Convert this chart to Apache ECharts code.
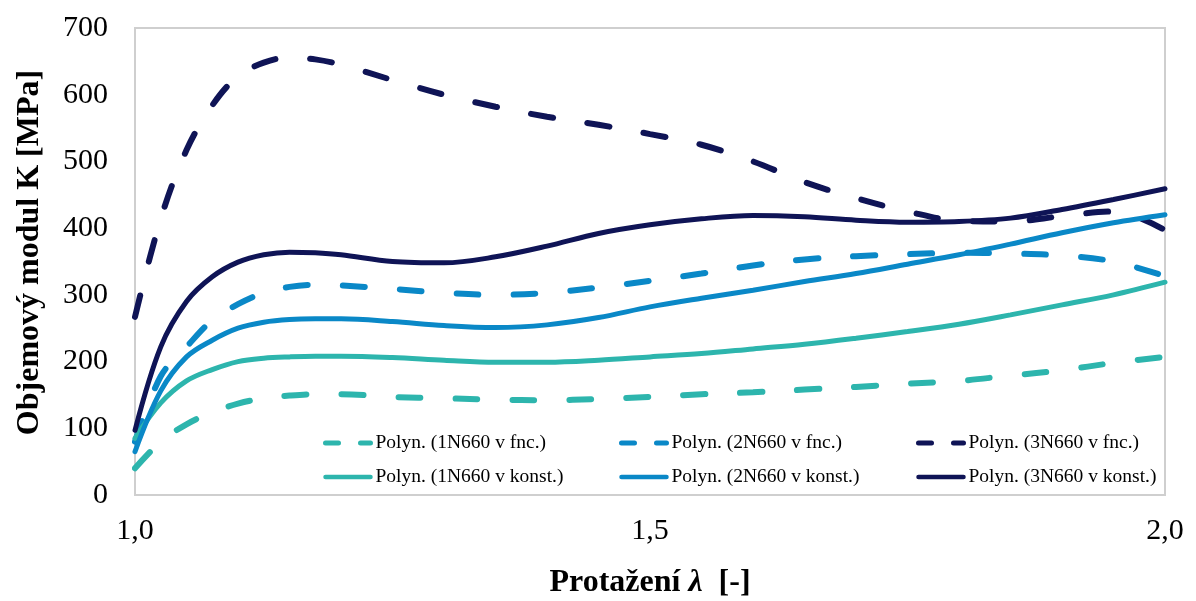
<!DOCTYPE html>
<html>
<head>
<meta charset="utf-8">
<script src="https://cdn.jsdelivr.net/npm/echarts@6/dist/echarts.min.js"></script>
<style>
  html, body { margin: 0; padding: 0; background: #fff; }
  #chart { width: 1196px; height: 601px; }
</style>
</head>
<body>
<div id="chart"></div>
<script>
// Stretch ratio λ at which each fitted curve is sampled
const lambda = [1.0, 1.025, 1.05, 1.075, 1.1, 1.125, 1.15, 1.175, 1.2, 1.25, 1.3, 1.35,
                1.4, 1.45, 1.5, 1.55, 1.6, 1.65, 1.7, 1.75, 1.8, 1.85, 1.9, 1.95, 2.0];

// Bulk modulus K [MPa], polynomial trend curves
const k1N_fnc   = [40, 80, 106, 124, 137, 145, 149, 151, 151, 147, 145, 143,
                   142, 144, 147, 151, 154, 158, 162, 167, 171, 179, 187, 198, 207];
const k2N_fnc   = [80, 178, 222, 262, 286, 303, 312, 315, 314, 309, 303, 300,
                   303, 311, 321, 332, 344, 353, 358, 361, 363, 362, 359, 350, 328];
const k3N_fnc   = [267, 414, 517, 584, 628, 648, 656, 653, 645, 622, 600, 582,
                   567, 555, 541, 525, 500, 469, 445, 425, 411, 410, 418, 425, 397];
const k1N_konst = [85, 138, 171, 188, 200, 205, 207, 208, 208, 206, 202, 199,
                   199, 202, 207, 212, 219, 226, 235, 245, 256, 270, 285, 300, 319];
const k2N_konst = [65, 156, 207, 232, 250, 259, 263, 264, 264, 260, 254, 251,
                   255, 266, 282, 295, 307, 320, 332, 346, 360, 376, 393, 408, 420];
const k3N_konst = [97, 222, 290, 327, 349, 360, 364, 363, 360, 350, 348, 357,
                   373, 392, 405, 414, 419, 417, 412, 409, 410, 415, 428, 443, 459];

const seriesNames = [
  'Polyn. (1N660 v fnc.)', 'Polyn. (2N660 v fnc.)', 'Polyn. (3N660 v fnc.)',
  'Polyn. (1N660 v konst.)', 'Polyn. (2N660 v konst.)', 'Polyn. (3N660 v konst.)'
];
const xTicks = { 1: '1,0', 1.5: '1,5', 2: '2,0' };

const TEAL = '#2db5ad', BLUE = '#0a88c7', NAVY = '#0f1456';
const SERIF = '"Liberation Serif", "Times New Roman", serif';

function pairs(ys) { return lambda.map((x, i) => [x, ys[i]]); }

function curve(name, ys, color, dashed) {
  return {
    name: name,
    type: 'line',
    data: pairs(ys),
    smooth: 0.35,
    symbol: 'none',
    silent: true,
    lineStyle: dashed
      ? { color: color, width: 6, type: [22, 35], cap: 'round' }
      : { color: color, width: 5, cap: 'round' },
    itemStyle: { color: color }
  };
}

// one legend column: dashed entry on top, solid entry below; line-only keys
function legendColumn(left, names, color) {
  const hidden = { opacity: 0, borderWidth: 0 };
  return {
    orient: 'vertical',
    left: left,
    top: 428,
    itemGap: 14,
    itemWidth: 45,
    itemHeight: 10,
    textStyle: { fontFamily: SERIF, fontSize: 19.5, color: '#000' },
    data: [
      { name: names[0], itemStyle: hidden,
        lineStyle: { color: color, width: 5, type: [13, 22], cap: 'round' } },
      { name: names[1], itemStyle: hidden,
        lineStyle: { color: color, width: 4.5 } }
    ]
  };
}

const chart = echarts.init(document.getElementById('chart'));
chart.setOption({
  animation: false,
  backgroundColor: '#fff',
  grid: {
    left: 135, top: 28, right: 31, bottom: 106,
    outerBoundsMode: 'none',
    containLabel: false,
    show: true, borderColor: '#cfcfcf', borderWidth: 2, backgroundColor: 'transparent'
  },
  legend: [
    legendColumn(318, [seriesNames[0], seriesNames[3]], TEAL),
    legendColumn(614, [seriesNames[1], seriesNames[4]], BLUE),
    legendColumn(911, [seriesNames[2], seriesNames[5]], NAVY)
  ],
  xAxis: {
    type: 'value',
    min: 1, max: 2, interval: 0.5,
    axisLine: { show: false },
    axisTick: { show: false },
    splitLine: { show: false },
    axisLabel: {
      margin: 21,
      fontFamily: SERIF, fontSize: 30, color: '#000',
      formatter: v => xTicks[v] !== undefined ? xTicks[v] : ''
    },
    name: '{t|Protažení }{l|λ}{t|  [-]}',
    nameLocation: 'middle',
    nameGap: 72,
    nameTextStyle: {
      rich: {
        t: { fontFamily: SERIF, fontSize: 32, fontWeight: 'bold', color: '#000' },
        l: { fontFamily: SERIF, fontSize: 32, fontWeight: 'bold', fontStyle: 'italic', color: '#000' }
      }
    }
  },
  yAxis: {
    type: 'value',
    min: 0, max: 700, interval: 100,
    axisLine: { show: false },
    axisTick: { show: false },
    splitLine: { show: false },
    axisLabel: { margin: 27, fontFamily: SERIF, fontSize: 30, color: '#000' },
    name: 'Objemový modul K [MPa]',
    nameLocation: 'middle',
    nameGap: 89,
    nameTextStyle: {
      fontFamily: SERIF, fontSize: 32, fontWeight: 'bold', color: '#000',
      padding: [0, 0, 0, 18]
    }
  },
  series: [
    curve(seriesNames[0], k1N_fnc, TEAL, true),
    curve(seriesNames[1], k2N_fnc, BLUE, true),
    curve(seriesNames[2], k3N_fnc, NAVY, true),
    curve(seriesNames[3], k1N_konst, TEAL, false),
    curve(seriesNames[4], k2N_konst, BLUE, false),
    curve(seriesNames[5], k3N_konst, NAVY, false)
  ]
});
</script>
</body>
</html>
